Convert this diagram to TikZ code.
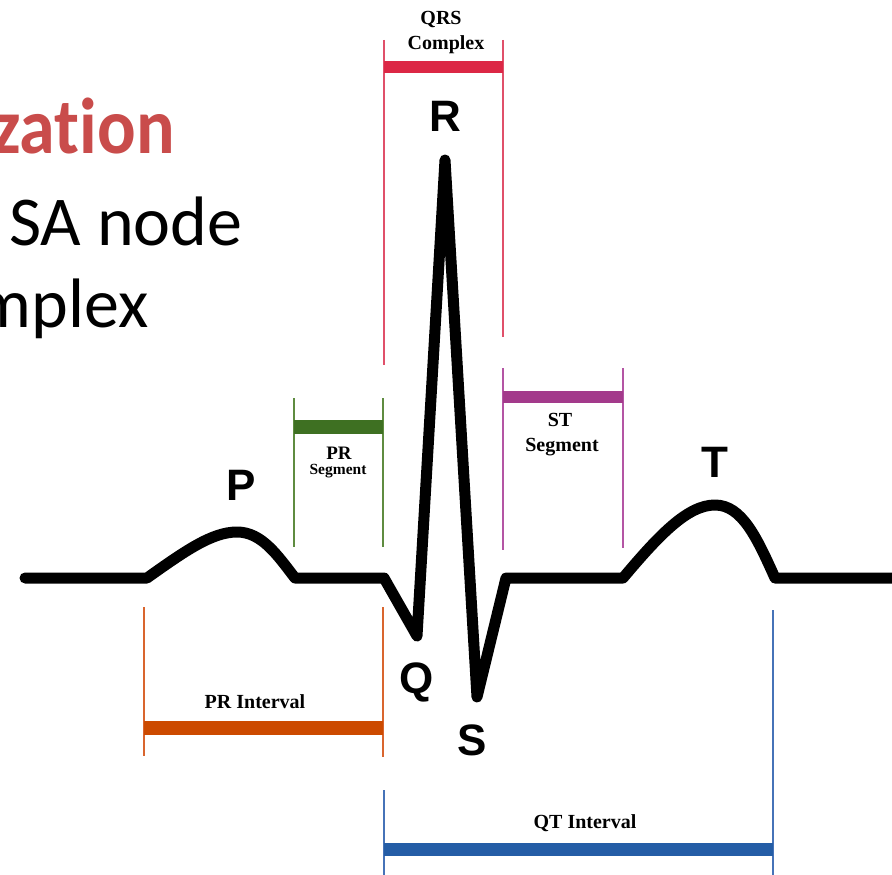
\documentclass[tikz,border=0pt]{standalone}
\definecolor{qrsred}{HTML}{DC2745}
\definecolor{qrsline}{HTML}{E0506A}
\definecolor{prgreen}{HTML}{3E7022}
\definecolor{prgline}{HTML}{5F8C40}
\definecolor{stpurple}{HTML}{A33A8B}
\definecolor{stline}{HTML}{B455A4}
\definecolor{prorange}{HTML}{CC4A00}
\definecolor{proline}{HTML}{D9652E}
\definecolor{qtblue}{HTML}{245DA6}
\definecolor{qtline}{HTML}{4673B8}
\definecolor{slidered}{HTML}{C94C4B}
\usepackage{fontspec}
\setmainfont{Liberation Serif}
\newfontfamily\wavefont{Liberation Sans}
\newfontfamily\slidefont{Carlito}[Ligatures=NoCommon]
\usepackage{tikz}

\begin{document}
\begin{tikzpicture}[x=1pt, y=-1pt,
      wave/.style={line width=11pt, line join=round, line cap=round},
      tick/.style={line width=2pt},
      bar/.style={line width=13pt},
      peak/.style={font=\wavefont\bfseries\fontsize{44}{44}\selectfont,
                   anchor=base, inner sep=0pt},
      lbl/.style={font=\bfseries\fontsize{20}{20}\selectfont,
                  anchor=base, inner sep=0pt},
      slide/.style={font=\slidefont\fontsize{70}{70}\selectfont,
                    inner sep=0pt}
  ]
    \useasboundingbox (0,0) rectangle (892,875);
    \clip (0,0) rectangle (892,875);

    % slide text behind the trace
    \node[slide, anchor=base east, text=slidered,
          font=\slidefont\bfseries\fontsize{72}{72}\selectfont] (ttl) at (175,153)
          {\scalebox{1}[1.1]{zation}};
    \node[slide, anchor=base west] (sa) at (9,245) {SA node};
    \node[slide, anchor=base east] (cx) at (149,327) {mplex};

    % waveform
    \coordinate (p0) at (25,578);  \coordinate (p1) at (147,578);
    \coordinate (p2) at (295,578); \coordinate (q0) at (384,578);
    \coordinate (q)  at (417,636); \coordinate (r)  at (445,160);
    \coordinate (s)  at (477,697); \coordinate (s0) at (506,578);
    \coordinate (t0) at (623,578); \coordinate (t1) at (775,578);
    \coordinate (end) at (900,578);
    \draw[wave] (p0) -- (p1)
        .. controls (185,551) and (212,532) .. (237,532)
        .. controls (262,532) and (278,556) .. (p2)
        -- (q0) -- (q) -- (r) -- (s) -- (s0) -- (t0)
        .. controls (660,534) and (688,505) .. (715,505)
        .. controls (742,505) and (757,538) .. (t1) -- (end);

    \node[peak] (P) at (241,500) {P};
    \node[peak] (Q) at (417,693) {Q};
    \node[peak] (R) at (445,131) {R};
    \node[peak] (S) at (472,755) {S};
    \node[peak] (T) at (715,477) {T};

    % QRS complex
    \draw[tick, qrsline] (384,40) -- (384,365);
    \draw[tick, qrsline] (503,40) -- (503,337);
    \draw[bar, qrsred, line width=12pt] (384,67) -- (503,67);
    \node[lbl] (qrs) at (441,25) {QRS};
    \node[lbl] (qrs2) at (446,50) {Complex};

    % PR segment
    \draw[tick, prgline] (294,398) -- (294,547);
    \draw[tick, prgline] (383,398) -- (383,547);
    \draw[bar, prgreen, line width=14pt] (294,427) -- (383,427);
    \node[lbl, font=\bfseries\fontsize{19}{19}\selectfont] (prs) at (339,459) {PR};
    \node[lbl, font=\bfseries\fontsize{15.5}{16}\selectfont] (prs2) at (338,474) {Segment};

    % ST segment
    \draw[tick, stline] (503,368) -- (503,550);
    \draw[tick, stline] (623,368) -- (623,548);
    \draw[bar, stpurple, line width=12pt] (503,397) -- (623,397);
    \node[lbl] (sts) at (560,426) {ST};
    \node[lbl] (sts2) at (562,451) {Segment};

    % PR interval
    \draw[tick, proline] (144,607) -- (144,756);
    \draw[tick, proline] (383,607) -- (383,757);
    \draw[bar, prorange, line width=14pt] (144,728) -- (383,728);
    \node[lbl] (pri) at (255,708) {PR Interval};

    % QT interval
    \draw[tick, qtline] (384,790) -- (384,880);
    \draw[tick, qtline] (773,610) -- (773,880);
    \draw[bar, qtblue] (384,849) -- (773,849);
    \node[lbl] (qti) at (585,828) {QT Interval};
  \end{tikzpicture}
\end{document}
